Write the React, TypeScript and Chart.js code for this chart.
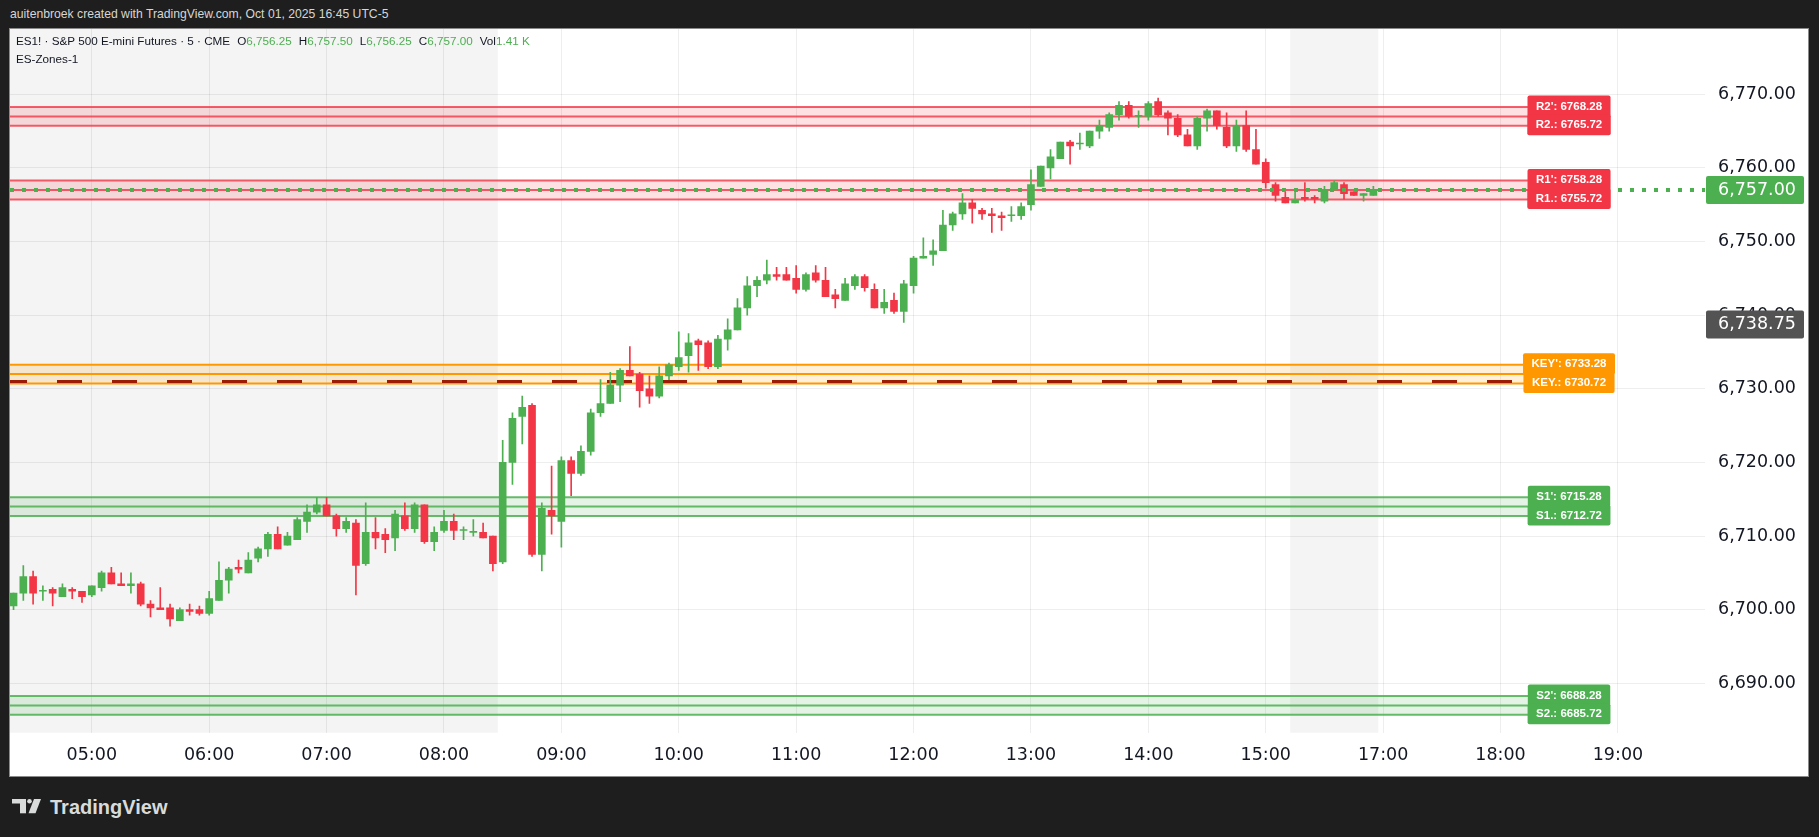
import React, { useEffect, useRef } from "react";
import { Chart, registerables } from "chart.js";

Chart.register(...registerables);

// ---- Data (5-minute bars, index 0 = 04:20, index 139 = 15:55) ----
const opens = [
  6700.5, 6702.25, 6704.5, 6702.5, 6702.75, 6701.75, 6702.75, 6702.5, 6702, 6703,
  6705, 6703.5, 6703.25, 6703.5, 6700.75, 6700.25, 6700.25, 6698.5, 6700, 6700,
  6699.5, 6701.25, 6704, 6705.75, 6705, 6707, 6708.25, 6710.25, 6708.75, 6709.5,
  6712, 6713.25, 6714.25, 6712.75, 6711, 6711.75, 6706.25, 6710.5, 6710.25, 6709.75,
  6712.75, 6711, 6714.25, 6709.25, 6710.75, 6712, 6710.75, 6710.5, 6710.5, 6710,
  6706.5, 6720, 6726.25, 6727.75, 6707.5, 6713.5, 6712, 6720.25, 6718.5, 6721.5,
  6726.75, 6728, 6730.5, 6732.5, 6732, 6730, 6729, 6731.75, 6733, 6734.5,
  6736.5, 6736.25, 6733, 6736.75, 6738, 6741, 6744, 6744.75, 6745.5, 6745.5,
  6745, 6743.5, 6745.75, 6744.75, 6742.75, 6742, 6744, 6745.25, 6743.5, 6741,
  6742, 6740.5, 6744, 6747.75, 6748.25, 6748.75, 6752.25, 6753.75, 6755.25, 6754.25,
  6753.75, 6753.5, 6753.5, 6753.5, 6755, 6757.5, 6760, 6761.25, 6763.5, 6763.25,
  6763, 6765, 6765.5, 6767.25, 6768.5, 6767, 6767, 6769, 6767.5, 6766.75,
  6764.5, 6763, 6766.75, 6767.75, 6765.5, 6763, 6765.75, 6762.5, 6760.75, 6757.75,
  6756, 6755.25, 6756, 6756, 6755.5, 6757, 6757.75, 6756.75, 6756.25, 6756.25,
];
const highs = [
  6702.25, 6706, 6705.25, 6703.25, 6703, 6703.5, 6703, 6702.5, 6703.25, 6705.25,
  6705.75, 6705, 6705, 6703.75, 6701.25, 6703, 6700.75, 6700.25, 6700.75, 6700.5,
  6702.5, 6706.5, 6705.75, 6706.75, 6707.75, 6708.5, 6710.5, 6711.25, 6710.5, 6712.5,
  6714.25, 6715.25, 6715.25, 6713, 6712.5, 6712.25, 6714.5, 6712.5, 6711, 6713.5,
  6714.5, 6714.5, 6714.25, 6711.25, 6713.5, 6713, 6711.25, 6712.25, 6711.75, 6710,
  6723, 6726.75, 6729, 6728, 6714.5, 6719.5, 6720.75, 6720.75, 6722.25, 6727.25,
  6731.25, 6732.25, 6732.75, 6735.75, 6732.25, 6731.75, 6733, 6733.5, 6737.75, 6737.5,
  6736.75, 6736.5, 6737.25, 6739.5, 6742.25, 6745.25, 6745.25, 6747.5, 6746.5, 6746.5,
  6746.75, 6745.75, 6746.75, 6746.5, 6743.5, 6745, 6745.5, 6745.5, 6744.25, 6743.5,
  6743, 6744.75, 6748, 6750.5, 6750.25, 6754.25, 6754, 6756.5, 6755.75, 6754.5,
  6754.5, 6754, 6754.75, 6755.25, 6759.75, 6760.25, 6762.5, 6763.5, 6763.75, 6764.75,
  6765, 6766.5, 6767.5, 6769, 6769, 6767.75, 6769, 6769.5, 6767.75, 6767.25,
  6765.25, 6767, 6768, 6767.75, 6767.5, 6766.5, 6767.75, 6765.25, 6761.25, 6758,
  6756.75, 6756.75, 6758, 6756.25, 6757.5, 6758.25, 6758, 6756.75, 6756.5, 6757.5,
];
const lows = [
  6700, 6701.25, 6700.75, 6701.25, 6700.5, 6701.75, 6701.5, 6701, 6701.75, 6702.5,
  6703.5, 6703.25, 6702.25, 6700.5, 6699, 6700, 6697.75, 6698.5, 6699.25, 6699.25,
  6699.25, 6701.25, 6702.25, 6705, 6705, 6706.5, 6707.25, 6708.25, 6708.75, 6709.5,
  6710.5, 6713, 6712.75, 6710, 6710.5, 6702, 6706, 6708.25, 6707.75, 6708,
  6710.75, 6710.5, 6709, 6708, 6710.5, 6709.5, 6709.5, 6710, 6709.75, 6705.25,
  6706.25, 6717, 6722.5, 6707.25, 6705.25, 6710.25, 6708.5, 6715.5, 6718.25, 6721,
  6726.25, 6728, 6728.25, 6731.75, 6727.5, 6728, 6728.75, 6731.25, 6732.5, 6732.25,
  6732.5, 6732.75, 6732.75, 6735.25, 6738, 6740, 6742.5, 6744.25, 6744.75, 6744.75,
  6743, 6743.25, 6744.5, 6742.5, 6741, 6742, 6743.5, 6743.25, 6741, 6740.25,
  6740.25, 6739, 6743, 6747.75, 6746.75, 6748.75, 6751.5, 6753, 6752.5, 6753,
  6751.25, 6751.5, 6752.75, 6753, 6754.25, 6757.5, 6758.5, 6761.25, 6760.5, 6762.5,
  6762.75, 6764, 6765, 6766.5, 6766.75, 6765.5, 6766.5, 6767, 6764.5, 6764.25,
  6763, 6762.5, 6765, 6765.25, 6762.75, 6762.25, 6762.25, 6760.5, 6757.25, 6755.5,
  6755.25, 6755.25, 6755.5, 6755.25, 6755.25, 6757, 6755.75, 6756.25, 6755.5, 6756.25,
];
const closes = [
  6702.25, 6704.5, 6702.25, 6702.5, 6702.25, 6703, 6702.5, 6701.75, 6703.25, 6705,
  6703.5, 6703.25, 6703.5, 6700.75, 6700.25, 6700, 6698.75, 6700, 6699.75, 6699.5,
  6701.5, 6704, 6705.5, 6705.5, 6706.75, 6708.25, 6710.25, 6708.25, 6710, 6712.25,
  6713.25, 6714.25, 6712.75, 6711, 6712, 6706, 6710.5, 6709.75, 6709.5, 6713,
  6711, 6714.25, 6709.25, 6710.5, 6712, 6710.75, 6710.75, 6710.5, 6709.75, 6706.25,
  6720, 6726, 6727.5, 6707.5, 6713.75, 6712.75, 6720.25, 6718.5, 6721.5, 6726.75,
  6728, 6730.5, 6732.5, 6731.75, 6729.75, 6729, 6731.75, 6733.25, 6734.25, 6736.25,
  6736, 6733, 6736.75, 6738, 6741, 6744, 6744.75, 6745.5, 6745.25, 6744.75,
  6743.5, 6745.5, 6744.75, 6742.5, 6742.25, 6744.25, 6745.25, 6743.75, 6741, 6741.75,
  6740.5, 6744.25, 6747.75, 6748, 6748.75, 6752.25, 6753.75, 6755.25, 6754.5, 6753.75,
  6753.5, 6753.25, 6753.5, 6754.75, 6757.75, 6760.25, 6761.5, 6763.5, 6763, 6763.25,
  6765, 6765.75, 6767.25, 6768.5, 6767, 6767, 6768.75, 6767.25, 6766.75, 6764.5,
  6763, 6766.75, 6767.75, 6765.75, 6763, 6765.75, 6762.5, 6760.5, 6758, 6756.25,
  6755.25, 6755.75, 6755.75, 6755.75, 6757, 6758, 6756.5, 6756.25, 6756.5, 6757,
];

// time axis: tick positions (bar index) and their labels
const tickIdx = [8, 20, 32, 44, 56, 68, 80, 92, 104, 116, 128, 140, 152, 164];
const tickLabels = ["05:00", "06:00", "07:00", "08:00", "09:00", "10:00", "11:00", "12:00", "13:00", "14:00", "15:00", "17:00", "18:00", "19:00"];
// price axis ticks
const priceTicks = [6690, 6700, 6710, 6720, 6730, 6740, 6750, 6760, 6770];

// ES-Zones-1 indicator levels
const zoneNames = ["R2", "R1", "KEY", "S1", "S2"];
const zoneTop = [6768.28, 6758.28, 6733.28, 6715.28, 6688.28];
const zoneMid = [6767, 6757, 6732, 6714, 6687];
const zoneBot = [6765.72, 6755.72, 6730.72, 6712.72, 6685.72];
const zoneKind = ["res", "res", "key", "sup", "sup"];
const keyPivot = 6731;

// last price and marker price on the price scale
const lastPrice = 6757;
const markerPrice = 6738.75;
const volumeText = "1.41 K";

// extended-hours shading (bar index ranges)
const shadeFrom = [-1, 130.5];
const shadeTo = [49.5, 139.5];

// ---- styling ----
const GREEN = "#4caf50";
const RED = "#f23645";
const KIND = {
  res: { line: "rgba(242,54,69,0.8)", fill: "rgba(242,54,69,0.15)", box: "#f23645" },
  key: { line: "#ff9800", fill: "rgba(255,152,0,0.15)", box: "#ff9800" },
  sup: { line: "rgba(76,175,80,0.85)", fill: "rgba(76,175,80,0.15)", box: "#4caf50" },
};
const X_MIN = -0.361;
const X_MAX = 172.9;
const LABEL_X = 159;
const AXIS_FONT = { family: "'DejaVu Sans', sans-serif", size: 17.5 };

const fmt = (v: number) =>
  v.toLocaleString("en-US", { minimumFractionDigits: 2, maximumFractionDigits: 2 });

export default function App() {
  const ref = useRef<HTMLCanvasElement>(null);

  useEffect(() => {
    document.body.style.margin = "0";
    document.body.style.background = "#1e1e1e";
    const canvas = ref.current!;
    const colors = closes.map((c, i) => (c >= opens[i] ? GREEN : RED));
    const bodies = opens.map((o, i) => ({ x: i, y: [o, closes[i]] }));
    const wicks = highs.map((h, i) => ({ x: i, y: [lows[i], h] }));

    const hline = (y: number, x0: number, x1: number) => [
      { x: x0, y },
      { x: x1, y },
    ];

    const zoneSets: any[] = [];
    zoneNames.forEach((_, z) => {
      const k = (KIND as any)[zoneKind[z]];
      const base = { type: "line", pointRadius: 0, borderWidth: 2, borderColor: k.line, tension: 0 };
      zoneSets.push({ ...base, data: hline(zoneBot[z], X_MIN, LABEL_X), fill: false });
      zoneSets.push({ ...base, data: hline(zoneMid[z], X_MIN, LABEL_X), fill: false });
      zoneSets.push({
        ...base,
        data: hline(zoneTop[z], X_MIN, LABEL_X),
        fill: { value: zoneBot[z] },
        backgroundColor: k.fill,
      });
    });

    const shadePlugin = {
      id: "shade",
      beforeDraw(chart: any) {
        const { ctx, chartArea, scales } = chart;
        ctx.save();
        ctx.fillStyle = "#ffffff";
        ctx.fillRect(0, 0, chart.width, chart.height);
        ctx.fillStyle = "#f4f4f4";
        shadeFrom.forEach((f, i) => {
          const a = Math.max(chartArea.left, scales.x.getPixelForValue(f));
          const b = scales.x.getPixelForValue(shadeTo[i]);
          ctx.fillRect(a, chartArea.top, b - a, chartArea.bottom - chartArea.top);
        });
        ctx.restore();
      },
    };

    const labelPlugin = {
      id: "zoneLabels",
      afterDatasetsDraw(chart: any) {
        const { ctx, scales } = chart;
        ctx.save();
        ctx.font = "bold 11.5px 'Liberation Sans', sans-serif";
        ctx.textBaseline = "middle";
        ctx.textAlign = "center";
        const cx = scales.x.getPixelForValue(LABEL_X);
        zoneNames.forEach((name, z) => {
          const k = (KIND as any)[zoneKind[z]];
          const items = [
            [`${name}': ${zoneTop[z].toFixed(2)}`, zoneTop[z]],
            [`${name}.: ${zoneBot[z].toFixed(2)}`, zoneBot[z]],
          ] as [string, number][];
          items.forEach(([txt, v]) => {
            const y = scales.y.getPixelForValue(v) - 1;
            const w = ctx.measureText(txt).width + 17;
            ctx.fillStyle = k.box;
            ctx.beginPath();
            ctx.roundRect(cx - w / 2, y - 10.5, w, 21, 2);
            ctx.fill();
            ctx.fillStyle = "#ffffff";
            ctx.fillText(txt, cx, y + 0.5);
          });
        });
        ctx.restore();
      },
      afterDraw(chart: any) {
        const { ctx, scales, chartArea } = chart;
        ctx.save();
        ctx.font = "17.5px 'DejaVu Sans', sans-serif";
        ctx.textBaseline = "middle";
        ctx.textAlign = "left";
        const boxes: [number, string][] = [
          [lastPrice, GREEN],
          [markerPrice, "#535353"],
        ];
        boxes.forEach(([v, col]) => {
          const y = scales.y.getPixelForValue(v);
          ctx.fillStyle = col;
          ctx.beginPath();
          ctx.roundRect(chartArea.right + 1, y - 14, 98, 28, 2);
          ctx.fill();
          ctx.fillStyle = "#ffffff";
          ctx.fillText(fmt(v), chartArea.right + 13, y + 0.5);
        });
        ctx.restore();
      },
    };

    const chart = new Chart(canvas, {
      type: "bar",
      data: {
        datasets: [
          {
            type: "line",
            data: hline(lastPrice, X_MIN, X_MAX),
            borderColor: GREEN,
            borderWidth: 4,
            borderDash: [4, 8],
            pointRadius: 0,
            fill: false,
          } as any,
          {
            type: "bar",
            data: bodies,
            backgroundColor: colors,
            barThickness: 7,
            minBarLength: 1,
            grouped: false,
            borderWidth: 0,
          } as any,
          {
            type: "bar",
            data: wicks,
            backgroundColor: colors,
            barThickness: 1,
            grouped: false,
            borderWidth: 0,
          } as any,
          {
            type: "line",
            data: hline(keyPivot, X_MIN, LABEL_X),
            borderColor: "#9c1b05",
            borderWidth: 3,
            borderDash: [25, 30],
            borderDashOffset: 8,
            pointRadius: 0,
            fill: false,
          } as any,
          ...zoneSets,
        ],
      },
      options: {
        animation: false,
        responsive: false,
        devicePixelRatio: 1,
        maintainAspectRatio: false,
        layout: { padding: 0 },
        plugins: { legend: { display: false }, tooltip: { enabled: false } },
        scales: {
          x: {
            type: "linear",
            min: X_MIN,
            max: X_MAX,
            offset: false,
            grid: { color: "rgba(0,0,0,0.065)", drawTicks: false, offset: false },
            border: { display: false },
            afterBuildTicks: (s: any) => {
              s.ticks = tickIdx.map((v) => ({ value: v }));
            },
            afterFit: (s: any) => {
              s.height = 43.3;
              s.paddingLeft = 0;
              s.paddingRight = 0;
            },
            ticks: {
              autoSkip: false,
              maxRotation: 0,
              minRotation: 0,
              padding: 12.5,
              color: "#131722",
              font: AXIS_FONT,
              callback: (v: any) => tickLabels[tickIdx.indexOf(v)] ?? "",
            },
          },
          y: {
            type: "linear",
            position: "right",
            min: 6683.29,
            max: 6778.87,
            beginAtZero: false,
            grid: { color: "rgba(0,0,0,0.065)", drawTicks: false },
            border: { display: false },
            afterBuildTicks: (s: any) => {
              s.ticks = priceTicks.map((v) => ({ value: v }));
            },
            afterFit: (s: any) => {
              s.width = 103;
              s.paddingTop = 0;
              s.paddingBottom = 0;
            },
            ticks: {
              padding: 13,
              color: "#131722",
              font: AXIS_FONT,
              callback: (v: any) => fmt(Number(v)),
            },
          },
        },
      } as any,
      plugins: [shadePlugin, labelPlugin],
    });
    return () => chart.destroy();
  }, []);

  const last = closes.length - 1;
  const val = { color: GREEN };
  const item = { marginLeft: 7 };

  return (
    <div
      style={{
        position: "absolute",
        left: 0,
        top: 0,
        width: 1819,
        height: 837,
        background: "#1e1e1e",
        overflow: "hidden",
        fontFamily: "'Liberation Sans', Arial, sans-serif",
      }}
    >
      <div style={{ position: "absolute", left: 10, top: 6, fontSize: 12.2, lineHeight: "16px", color: "#d6d6d6", whiteSpace: "nowrap" }}>
        auitenbroek created with TradingView.com, Oct 01, 2025 16:45 UTC-5
      </div>
      <div
        style={{
          position: "absolute",
          left: 9,
          top: 28,
          width: 1798,
          height: 747,
          border: "1px solid #8a8a8a",
          background: "#ffffff",
        }}
      >
        <canvas ref={ref} width={1798} height={747} style={{ display: "block", width: 1798, height: 747 }} />
        <div style={{ position: "absolute", left: 6, top: 4, fontSize: 11.7, lineHeight: "16px", color: "#131722", whiteSpace: "nowrap" }}>
          <span>ES1! · S&amp;P 500 E-mini Futures · 5 · CME</span>
          <span style={item}>O<span style={val}>{fmt(opens[last])}</span></span>
          <span style={item}>H<span style={val}>{fmt(highs[last])}</span></span>
          <span style={item}>L<span style={val}>{fmt(lows[last])}</span></span>
          <span style={item}>C<span style={val}>{fmt(closes[last])}</span></span>
          <span style={item}>Vol<span style={val}>{volumeText}</span></span>
        </div>
        <div style={{ position: "absolute", left: 6, top: 22, fontSize: 11.7, lineHeight: "16px", color: "#131722", whiteSpace: "nowrap" }}>
          ES-Zones-1
        </div>
      </div>
      <svg style={{ position: "absolute", left: 0, top: 790 }} width={50} height={30}>
        <g fill="#d9dbdb">
          <rect x={12} y={9} width={14} height={4.5} />
          <rect x={20} y={9} width={6} height={14.3} />
          <circle cx={29.5} cy={11.3} r={2.3} />
          <polygon points="34,9 41,9 35.5,23.3 28.5,23.3" />
        </g>
      </svg>
      <div style={{ position: "absolute", left: 50, top: 795, fontSize: 20, fontWeight: 700, lineHeight: "24px", color: "#d9dbdb", whiteSpace: "nowrap" }}>
        TradingView
      </div>
    </div>
  );
}
